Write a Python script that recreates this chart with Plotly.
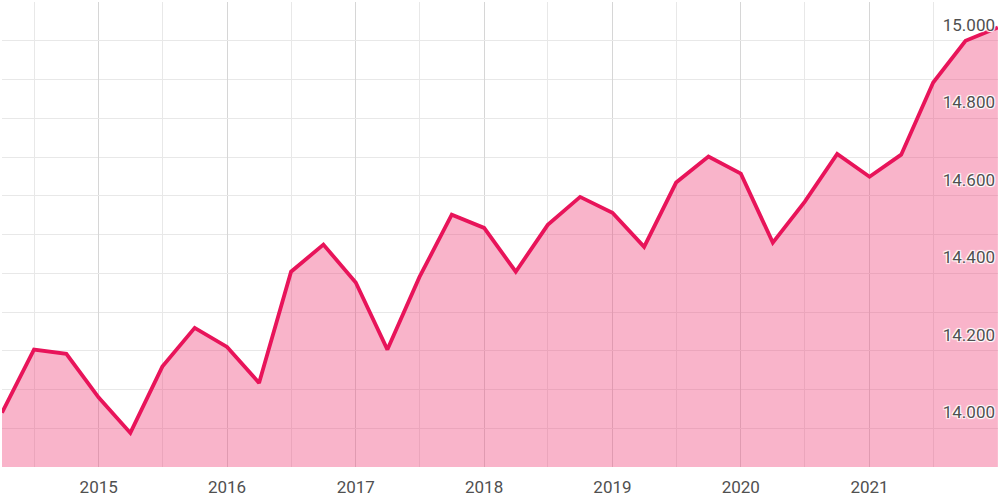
import plotly.graph_objects as go

# Quarterly dates and values (thousands)
dates = [
    "2014-04-01", "2014-07-01", "2014-10-01",
    "2015-01-01", "2015-04-01", "2015-07-01", "2015-10-01",
    "2016-01-01", "2016-04-01", "2016-07-01", "2016-10-01",
    "2017-01-01", "2017-04-01", "2017-07-01", "2017-10-01",
    "2018-01-01", "2018-04-01", "2018-07-01", "2018-10-01",
    "2019-01-01", "2019-04-01", "2019-07-01", "2019-10-01",
    "2020-01-01", "2020-04-01", "2020-07-01", "2020-10-01",
    "2021-01-01", "2021-04-01", "2021-07-01", "2021-10-01",
    "2022-01-01",
]
values = [
    14040, 14203, 14192,
    14079, 13988, 14159, 14259,
    14210, 14117, 14404, 14474,
    14376, 14203, 14390, 14551,
    14517, 14404, 14525, 14597,
    14556, 14468, 14634, 14701,
    14657, 14479, 14585, 14708,
    14649, 14706, 14892, 15000,
    15034,
]
year_ticks = ["2015-01-01", "2016-01-01", "2017-01-01", "2018-01-01",
              "2019-01-01", "2020-01-01", "2021-01-01", "2022-01-01"]
year_labels = ["2015", "2016", "2017", "2018", "2019", "2020", "2021", "2022"]

x_range = ["2014-04-01", "2022-01-01 08:00"]
y_range = [13900, 15100]

fig = go.Figure()
fig.add_trace(go.Scatter(
    x=dates, y=values, mode="lines",
    line=dict(color="#e8145a", width=3.8),
    fill="tozeroy", fillcolor="rgba(240,70,125,0.405)",
    hoverinfo="skip",
))

label_font = dict(family="Roboto, 'Open Sans', sans-serif", size=17, color="#505050")

fig.update_layout(
    width=1000, height=500,
    margin=dict(l=2, r=2, t=2, b=33, autoexpand=False),
    paper_bgcolor="white", plot_bgcolor="white",
    separators=",.",
    showlegend=False,
    xaxis=dict(
        type="date", range=x_range, automargin=False,
        tickmode="array", tickvals=year_ticks, ticktext=year_labels,
        showgrid=True, gridcolor="#d6d6d6", gridwidth=1.2,
        minor=dict(dtick="M6", tick0="2014-07-01", showgrid=True, gridcolor="#e8e8e8", gridwidth=1.2),
        ticks="", ticklabeloverflow="allow", ticklabelstandoff=8,
        tickfont=label_font, zeroline=False, showline=False,
    ),
    yaxis=dict(
        range=y_range, side="right", automargin=False,
        tick0=14000, dtick=200, tickformat=",d",
        showgrid=True, gridcolor="#e8e8e8", gridwidth=1.2,
        minor=dict(dtick=100, showgrid=True, gridcolor="#e8e8e8", gridwidth=1.2),
        ticks="", ticklabelposition="inside top", ticklabelshift=-4,
        tickfont=dict(family="Roboto, 'Open Sans', sans-serif", size=17, color="#505050",
                      shadow="1px 1px 1px white, -1px -1px 1px white, 1px -1px 1px white, -1px 1px 1px white"),
        zeroline=False, showline=False,
    ),
)

fig.write_html("out.html", config={"displayModeBar": False},
               post_script="document.body.style.margin='0';document.body.style.overflow='hidden';")
